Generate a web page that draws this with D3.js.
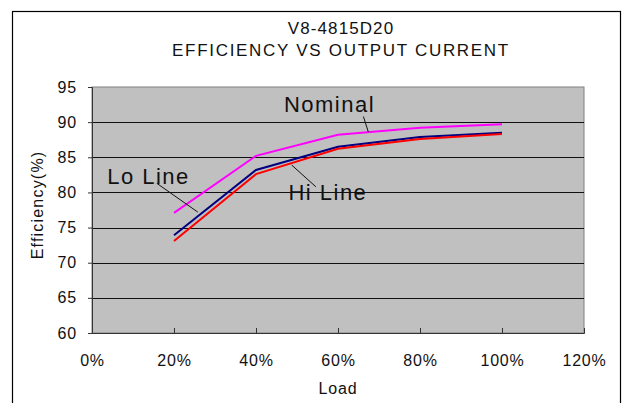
<!DOCTYPE html>
<html lang="en">
  <head>
    <meta charset="UTF-8" />
    <title>V8-4815D20 Efficiency vs Output Current</title>
    <style>
      body {
        margin: 0;
        background: #fff;
      }
      svg text {
        font-family: "Liberation Sans", Arial, sans-serif;
        fill: #111;
      }
    </style>
  </head>
  <body>
    <svg width="622" height="403"></svg>
    <script src="https://cdnjs.cloudflare.com/ajax/libs/d3/7.8.5/d3.min.js"></script>
    <script>
      // load fraction
      const loads = [0.2, 0.4, 0.6, 0.8, 1.0];
      const nominal = [77.1, 85.2, 88.2, 89.2, 89.7];
      const loLine = [73.9, 83.2, 86.5, 87.9, 88.5];
      const hiLine = [73.1, 82.6, 86.2, 87.6, 88.3];

      const xTicks = [0, 0.2, 0.4, 0.6, 0.8, 1.0, 1.2];
      const yTicks = [60, 65, 70, 75, 80, 85, 90, 95];

      // series labels with leader lines, in data units
      const labels = [
        { text: "Nominal", x: 0.468, y: 91.5, from: [0.662, 90.8], to: [0.674, 88.6] },
        { text: "Lo Line", x: 0.037, y: 81.2, from: [0.158, 81.3], to: [0.258, 77.2] },
        { text: "Hi Line", x: 0.479, y: 78.9, from: [0.487, 83.9], to: [0.546, 80.8] }
      ];

      var svg = d3.select("svg");

      // outer frame
      svg.append("rect")
        .attr("x", 12.5).attr("y", 11.5)
        .attr("width", 608).attr("height", 420)
        .attr("fill", "none").attr("stroke", "#000").attr("stroke-width", 1.2);

      var x = d3.scaleLinear().domain([0, 1.2]).range([92, 584]);
      var y = d3.scaleLinear().domain([60, 95]).range([333, 87]);

      // plot area
      svg.append("rect")
        .attr("x", x(0)).attr("y", y(95))
        .attr("width", x(1.2) - x(0)).attr("height", y(60) - y(95))
        .attr("fill", "#c0c0c0").attr("stroke", "#808080");

      // grid lines
      svg.append("g")
        .selectAll("line")
        .data(yTicks.filter((d) => d > 60 && d < 95))
        .join("line")
        .attr("x1", x(0)).attr("x2", x(1.2))
        .attr("y1", (d) => Math.round(y(d)) + 0.5)
        .attr("y2", (d) => Math.round(y(d)) + 0.5)
        .attr("stroke", "#111");

      // y axis
      const yAxis = svg.append("g")
        .attr("transform", `translate(${x(0)},0)`)
        .call(d3.axisLeft(y).tickValues(yTicks).tickSize(4).tickPadding(11).tickFormat(d3.format("d")));
      yAxis.select(".domain").attr("stroke", "#333");
      yAxis.selectAll(".tick line").attr("stroke", "#333");
      yAxis.selectAll("text")
        .attr("font-size", 16).attr("letter-spacing", 0.8).attr("fill", "#111")
        .attr("font-family", "Liberation Sans, Arial, sans-serif");

      // x axis, ticks pointing inward
      const xAxis = svg.append("g")
        .attr("transform", `translate(0,${y(60)})`)
        .call(d3.axisBottom(x).tickValues(xTicks).tickSize(-5).tickPadding(0).tickFormat(d3.format(".0%")));
      xAxis.select(".domain").attr("stroke", "#333");
      xAxis.selectAll(".tick line").attr("stroke", "#333");
      xAxis.selectAll("text")
        .attr("font-size", 16).attr("letter-spacing", 0.8).attr("fill", "#111")
        .attr("font-family", "Liberation Sans, Arial, sans-serif")
        .attr("dy", null).attr("y", 33);

      // titles
      svg.append("text")
        .attr("x", 341).attr("y", 34).attr("text-anchor", "middle")
        .attr("font-size", 17).attr("letter-spacing", 1.1)
        .text("V8-4815D20");
      svg.append("text")
        .attr("x", 341).attr("y", 56).attr("text-anchor", "middle")
        .attr("font-size", 17).attr("letter-spacing", 1.7)
        .text("EFFICIENCY VS OUTPUT CURRENT");
      svg.append("text")
        .attr("x", 338).attr("y", 394).attr("text-anchor", "middle")
        .attr("font-size", 16).attr("letter-spacing", 0.8)
        .text("Load");
      svg.append("text")
        .attr("transform", "translate(43,205) rotate(-90)")
        .attr("text-anchor", "middle")
        .attr("font-size", 16).attr("letter-spacing", 1.2)
        .text("Efficiency(%)");

      // series
      const line = d3.line()
        .x((d, i) => x(loads[i]))
        .y((d) => y(d));
      const series = [
        { values: nominal, color: "#ff00ff" },
        { values: loLine, color: "#000080" },
        { values: hiLine, color: "#ff0000" }
      ];
      svg.append("g")
        .selectAll("path")
        .data(series)
        .join("path")
        .attr("d", (d) => line(d.values))
        .attr("fill", "none")
        .attr("stroke", (d) => d.color)
        .attr("stroke-width", 2);

      // labels and leaders
      const lab = svg.append("g").selectAll("g").data(labels).join("g");
      lab.append("line")
        .attr("x1", (d) => x(d.from[0])).attr("y1", (d) => y(d.from[1]))
        .attr("x2", (d) => x(d.to[0])).attr("y2", (d) => y(d.to[1]))
        .attr("stroke", "#111").attr("stroke-width", 1);
      lab.append("text")
        .attr("x", (d) => x(d.x)).attr("y", (d) => y(d.y))
        .attr("font-size", 22).attr("letter-spacing", 1.5)
        .attr("fill", "#222")
        .text((d) => d.text);
    </script>
  </body>
</html>
